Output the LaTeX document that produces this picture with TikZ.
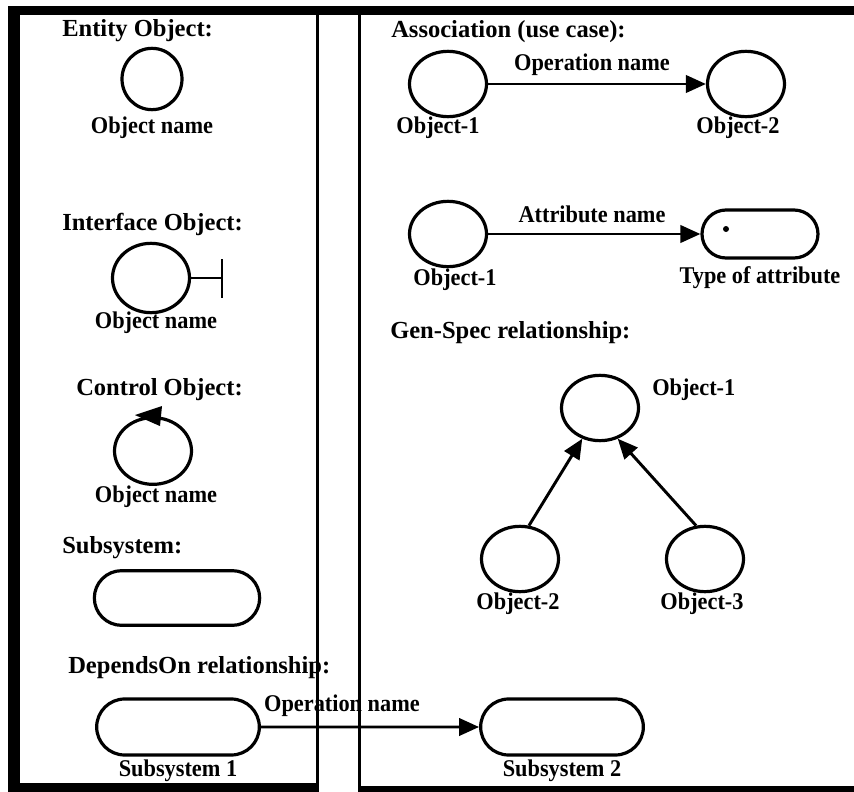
\documentclass[tikz,border=0pt]{standalone}
\usepackage{fontspec}
\setmainfont{Liberation Serif}
\newfontfamily\labfont[FakeStretch=0.93]{Liberation Serif}
\usetikzlibrary{arrows.meta,shapes.geometric,shapes.misc}
\begin{document}
\begin{tikzpicture}[x=0.75pt,y=-0.75pt,
  lbl/.style={font=\labfont\fontsize{18}{21}\selectfont\bfseries, inner sep=0pt},
  head/.style={font=\fontsize{18.4}{21}\selectfont\bfseries, inner sep=0pt, anchor=west},
  obj/.style={draw, ellipse, line width=2.4pt, inner sep=0pt, minimum width=57.75pt, minimum height=49pt},
  caps/.style={draw, rounded rectangle, line width=2.4pt, inner sep=0pt, minimum width=122pt, minimum height=42pt},
  arr/.style={line width=2.2pt, -{Triangle[length=15pt,width=13pt]}},
  plain/.style={line width=2.2pt}
]
\useasboundingbox (0,0) rectangle (854,792);

% ---------- left panel ----------
\node[head] (hent) at (62,31) {Entity Object:};
\node[obj, minimum width=45pt, minimum height=46pt] (ent) at (152,79) {};
\node[lbl] (entn) at (152,128) {Object name};

\node[head] (hint) at (62,224) {Interface Object:};
\node[obj, minimum height=52pt] (intf) at (151,278) {};
\coordinate (bar) at (222,278);
\draw[plain] (intf.east) -- (bar);
\draw[plain] (bar) ++(0,-19) -- ++(0,39);
\node[lbl] (intn) at (156,323) {Object name};

\node[head] (hctl) at (76,390) {Control Object:};
\node[obj, minimum height=50pt] (ctl) at (153,451) {};
\fill ([shift={(-18,-1)}]ctl.north) -- ([shift={(9,-10)}]ctl.north) -- ([shift={(7,10)}]ctl.north) -- cycle;
\node[lbl] (ctln) at (156,497) {Object name};

\node[head] (hsub) at (62,548) {Subsystem:};
\node[caps, minimum width=124pt, minimum height=41pt] (sub) at (177,598) {};

\node[head] (hdep) at (68,668) {DependsOn relationship:};
\node[caps] (s1) at (178,727) {};
\node[caps] (s2) at (562,727) {};
\draw[arr] (s1) -- (s2);
\node[lbl] (opd) at (342,706) {Operation name};
\node[lbl] (s1n) at (178,771) {Subsystem 1};
\node[lbl] (s2n) at (562,771) {Subsystem 2};

% ---------- right panel ----------
\node[head] (hass) at (391,32) {Association (use case):};
\node[obj] (a1) at (448,84) {};
\node[obj] (a2) at (746,84) {};
\draw[arr] (a1) -- (a2);
\node[lbl] (aop) at (592,65) {Operation name};
\node[lbl] (a1n) at (438,128) {Object-1};
\node[lbl] (a2n) at (738,128) {Object-2};

\node[obj] (b1) at (448,234) {};
\node[caps, minimum width=87pt, minimum height=36pt] (bt) at (760,234) {};
\fill (726,229) circle (3);
\draw[arr] (b1) -- (bt);
\node[lbl] (batt) at (592,214) {Attribute name};
\node[lbl] (b1n) at (455,280) {Object-1};
\node[lbl] (btn) at (760,278) {Type of attribute};

\node[head] (hgen) at (390,333) {Gen-Spec relationship:};
\node[obj] (g1) at (600,408) {};
\node[obj] (g2) at (520,559) {};
\node[obj] (g3) at (705,559) {};
\draw[arr] (g2.75) -- (g1.240);
\draw[arr] (g3.105) -- (g1.300);
\node[lbl, anchor=west] (g1n) at (652,390) {Object-1};
\node[lbl] (g2n) at (518,604) {Object-2};
\node[lbl] (g3n) at (702,604) {Object-3};

% ---------- frame ----------
\fill (8,6) rectangle (854,15);
\fill (8,6) rectangle (20,792);
\fill (8,783) rectangle (319,792);
\fill (316,6) rectangle (319,792);
\fill (358,6) rectangle (361,792);
\fill (358,786) rectangle (854,792);
\end{tikzpicture}
\end{document}
